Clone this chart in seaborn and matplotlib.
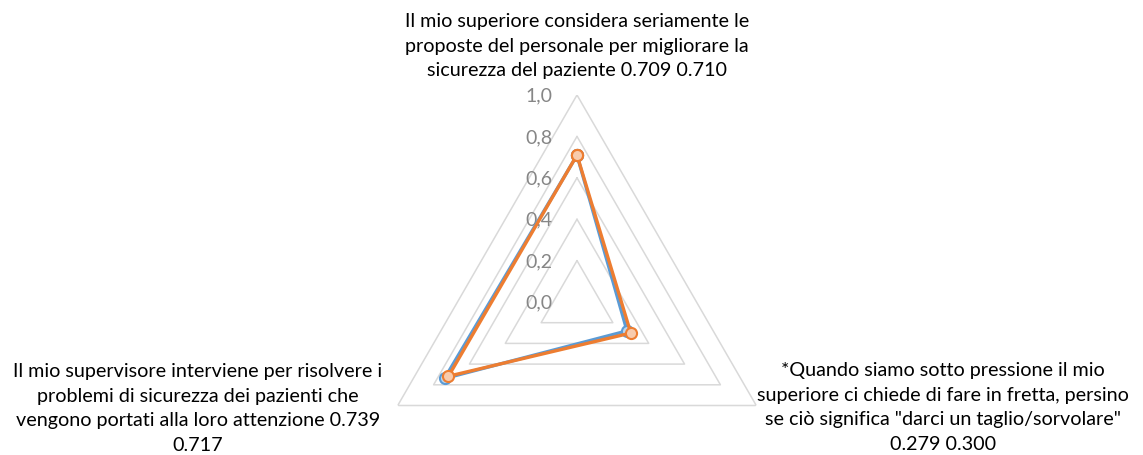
import numpy as np
import pandas as pd
import matplotlib
matplotlib.use("Agg")
import matplotlib.pyplot as plt
import matplotlib.transforms as mtransforms
import seaborn as sns

# dati
categories = [
    "Il mio superiore considera seriamente le\nproposte del personale per migliorare la\nsicurezza del paziente 0.709 0.710",
    "*Quando siamo sotto pressione il mio\nsuperiore ci chiede di fare in fretta, persino\nse ciò significa \"darci un taglio/sorvolare\"\n0.279 0.300",
    "Il mio supervisore interviene per risolvere i\nproblemi di sicurezza dei pazienti che\nvengono portati alla loro attenzione 0.739\n0.717",
]
serie_1 = [0.709, 0.279, 0.739]
serie_2 = [0.710, 0.300, 0.717]
r_ticks = [0.0, 0.2, 0.4, 0.6, 0.8, 1.0]
r_labels = ["0,0", "0,2", "0,4", "0,6", "0,8", "1,0"]

sns.set_theme(style="white")
plt.rcParams['font.family'] = ['Lato', 'DejaVu Sans']

W, H = 1143, 456
fig = plt.figure(figsize=(W / 100, H / 100), dpi=100)

# centro e raggio del radar in pixel
cx, cy, R = 577, 303, 207
ax = fig.add_axes([(cx - R) / W, (H - cy - R) / H, 2 * R / W, 2 * R / H], projection="polar")
ax.set_theta_offset(np.pi / 2)
ax.set_theta_direction(-1)
ax.set_ylim(0, 1.0)
ax.grid(False)
ax.spines['polar'].set_visible(False)
ax.patch.set_alpha(0)

n = len(categories)
theta = np.linspace(0, 2 * np.pi, n, endpoint=False)
theta_c = np.append(theta, 2 * np.pi)

# griglia triangolare
for r in r_ticks[1:]:
    ax.plot(theta_c, [r] * (n + 1), color="#d9d9d9", lw=1.1, zorder=1)

# etichette asse radiale
off = mtransforms.offset_copy(ax.transData, fig=fig, x=-25, y=0, units='dots')
for r, lab in zip(r_ticks, r_labels):
    ax.text(0, r, lab, transform=off, ha='right', va='center',
            fontsize=14, color="#868686")

# serie
df = pd.DataFrame({
    "theta": np.concatenate([theta_c, theta_c]),
    "val": serie_1 + serie_1[:1] + serie_2 + serie_2[:1],
    "serie": ["1"] * (n + 1) + ["2"] * (n + 1),
})
styles = {"1": ("#5b9bd5", "#bdd7ee"), "2": ("#ed7d31", "#f8cbad")}
for s, (col, fill) in styles.items():
    sns.lineplot(data=df[df["serie"] == s], x="theta", y="val", ax=ax, sort=False,
                 estimator=None, color=col, lw=2.4, marker="o", markersize=8,
                 markerfacecolor=fill, markeredgecolor=col, markeredgewidth=1.5,
                 legend=False, zorder=3)
ax.set_xlabel("")
ax.set_ylabel("")
ax.set_xticks([])
ax.set_yticks([])

# etichette categorie
kw = dict(ha='center', va='top', fontsize=14.2, color="black", linespacing=1.54)
fig.text(577 / W, 1 - 13 / H, categories[0], **kw)
fig.text(943 / W, 1 - 362 / H, categories[1], **kw)
fig.text(198 / W, 1 - 363 / H, categories[2], **kw)

fig.savefig("out.png", dpi=100)
